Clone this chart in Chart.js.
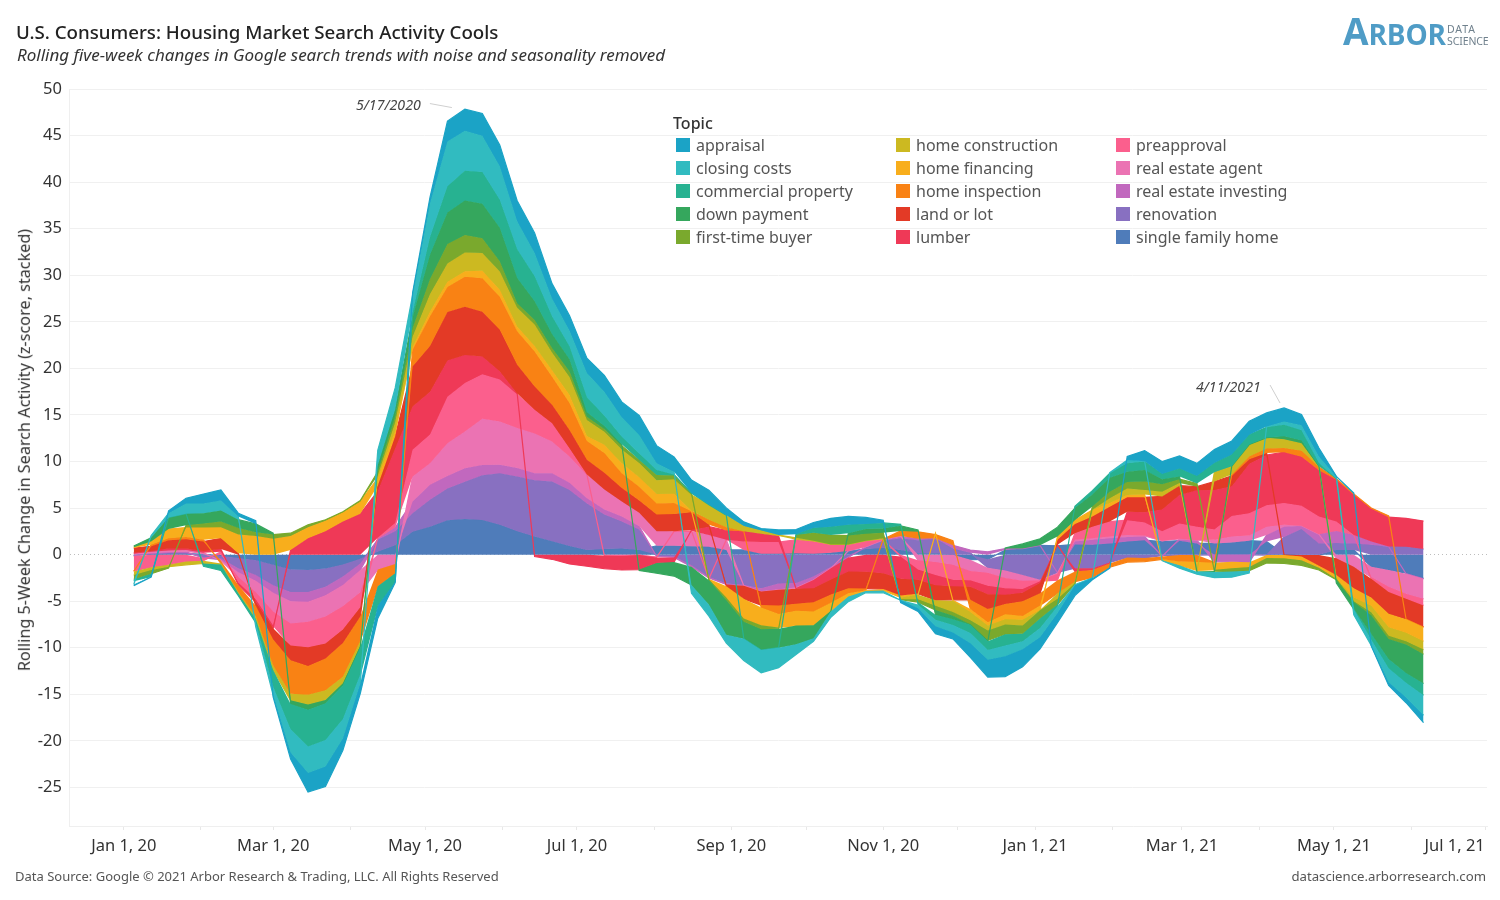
<!DOCTYPE html>
<html><head><meta charset="utf-8">
<script src="https://cdn.jsdelivr.net/npm/chart.js@4"></script>
<style>
html,body{margin:0;padding:0;background:#fff;width:1500px;height:900px;overflow:hidden}
#wrap{position:relative;width:1500px;height:900px;font-family:"Noto Sans",sans-serif}
canvas{position:absolute;left:0;top:0}
.t{position:absolute;white-space:nowrap;line-height:1}
#legend .sw{position:absolute;width:14px;height:14px}
</style></head><body>
<div id="wrap">
<canvas id="c" width="1500" height="900"></canvas>
<div class="t" style="left:16px;top:23px;font-size:18.7px;font-weight:500;color:#222">U.S. Consumers: Housing Market Search Activity Cools</div>
<div class="t" style="left:17px;top:46px;font-size:17px;font-style:italic;color:#333">Rolling five-week changes in Google search trends with noise and seasonality removed</div>
<div class="t" style="left:1343px;top:12px;font-family:'Open Sans';font-weight:700;color:#4f9cc6;font-size:37px">A<span style="font-size:28px;letter-spacing:-.2px">RBOR</span></div>
<div class="t" style="left:1447px;top:24px;font-size:10.5px;letter-spacing:.9px;color:#70818d">DATA</div>
<div class="t" style="left:1447px;top:36px;font-size:10.5px;letter-spacing:-.1px;color:#70818d">SCIENCE</div>
<div class="t" style="left:24px;top:449.5px;font-size:16.2px;color:#333;transform:translate(-50%,-50%) rotate(-90deg)">Rolling 5-Week Change in Search Activity (z-score, stacked)</div>
<div class="t" style="left:356px;top:98px;font-size:14.2px;font-style:italic;color:#444">5/17/2020</div>
<div class="t" style="left:1196px;top:380px;font-size:14.2px;font-style:italic;color:#444">4/11/2021</div>
<div class="t" style="left:15px;top:870px;font-size:13px;color:#555">Data Source: Google © 2021 Arbor Research &amp; Trading, LLC. All Rights Reserved</div>
<div class="t" style="right:14px;top:870px;font-size:13.2px;color:#555">datascience.arborresearch.com</div>
<div id="legend"></div>
</div>
<script>
// Week-ending dates as day offsets from Jan 1, 2020 (weekly from Jan 5, 2020 to Jun 6, 2021)
const weekCount = 75;
const firstDay = 4;

const appraisal = [-.15,-.05,.25,.55,1,1.15,.35,.35,-.2,-.7,
 -2.05,-2.15,-1.25,-1.05,-1.35,-.1,.2,.7,2.2,2.3,
 2.4,2.3,2.2,2.15,1.6,1.6,1.6,1.75,1.65,2.1,
 1.9,1.6,1.4,1.55,.8,.45,.2,.55,.5,.6,
 .9,.9,.7,.3,-.25,-.35,-.8,-.7,-1.5,-1.85,
 -2.2,-1.9,-1.25,-1,-1.1,-.2,-.1,.4,1.15,1.35,
 1.35,1.35,1.45,1.45,1.45,1.45,1.45,1.15,.9,.05,
 .1,-.05,-.35,-.55,-.8];
const closingCosts = [-.4,.25,.45,1.1,1.05,1.05,.35,-.45,-.9,-2.5,
 -2.85,-2.85,-2.1,-1,1.6,2.3,1.9,3.6,4.8,4.3,
 3.9,3.6,3,2.5,1.9,1.7,2.6,2.6,2.1,2,
 .7,.3,-.9,-1.25,-.9,-2.35,-2.45,-2.15,-1.1,-.35,
 -.65,-.55,-.2,-.25,-.05,-.4,-.7,-.8,-1.1,-1.05,
 -1.15,-.85,-1,-.75,-.15,-.05,.05,.35,.02,-.05,
 -.3,-.25,-.6,-.6,-.25,.1,.35,.55,.7,.2,
 -.6,-.65,-1.5,-1.6,-2.15];
const commercialProperty = [-.15,-.3,.05,0,-.3,-.65,-.25,-.4,-1.8,-2.7,
 -3.95,-3.95,-3.6,-2.9,-2.1,-.9,.5,1.9,2.8,3.2,
 3.4,3,3.1,2.7,1.9,1.4,1.6,1.1,.8,.7,
 .55,.1,.01,.02,.02,-.02,-.02,-.02,.1,.5,
 .9,.9,.55,.6,.15,-.25,-.55,-.6,-.9,-.95,
 -1.2,-.8,-1,-.2,.2,.4,.5,.9,.9,.55,
 .85,.8,1,1.25,1.05,1.1,1.25,1.1,.35,.01,
 -.02,-.6,-1,-1.05,-1.25];
const downPayment = [.13,.4,1.2,1.25,1.1,1.2,.9,.9,.15,-.4,
 -.55,-.35,-.25,-.2,.7,.8,1.2,2.6,3.4,3.7,
 3.7,3.6,2.7,2,1.5,1.3,.5,.3,.15,-.1,
 -1.1,-1.5,-1.95,-2.6,-3.7,-1.8,-2.2,-2,-2,-1.4,
 -.05,.25,.5,.45,.55,.2,-.5,-.4,-.02,-.1,
 .05,.5,.7,1,1.3,1.3,1.5,1.1,1.25,.55,
 .3,-.05,-.1,0,.02,.02,.3,.3,.05,-.35,
 -.75,-2,-2.15,-3.05,-3.15];
const firstTimeBuyer = [-.45,-.4,-.15,.25,.45,.6,.7,.4,.45,.3,
 .25,.1,.05,.1,.4,.6,.9,1.6,2.1,1.9,
 1.6,1.1,.5,.5,.5,.6,.35,.3,.4,.3,
 .55,.4,.2,-.1,-.3,-.35,-.45,-.15,.3,.85,
 1,.95,.75,.6,-.05,-.3,-.45,-.4,-.45,-1.05,
 -1.05,-.9,-.9,-.6,-.05,.35,.7,.7,.9,.8,
 .4,.35,-.15,-.35,-.4,-.55,-.55,-.55,-.25,-.1,
 -.1,-.3,-.35,-.35,-.5];
const homeConstruction = [-.4,-.3,-.2,-.35,-.3,-.1,-.1,-.3,-.5,-.7,
 -1.05,-1.05,-.7,-.5,.3,.9,1.1,1.9,1.95,2,
 1.9,1.95,2,2.3,1.9,1.9,1.7,1.4,1.5,1.55,
 1.5,1.55,1.7,1.6,1.25,.55,.35,.1,.2,.1,
 0,0,0,.1,-.2,-.5,-.6,-1.2,-.9,-.55,
 -.55,-.6,-.02,-.6,-.2,.02,.5,.7,.5,.5,
 .3,-.1,1,.9,1.25,1.15,.95,.8,.05,-.05,
 -.4,-.7,-.9,-.9,-.9];
const homeFinancing = [.1,.35,1,1,1.3,1.2,2,2,1.7,1.5,
 1.2,1.15,1,1.3,.8,.6,.3,.5,.55,.6,
 .8,.75,.5,.6,.7,.9,.55,.9,1.05,1,
 1,1,.05,-.05,-1.2,-2.1,-1.9,-1.45,-1.6,-1.45,
 -.85,-.35,-.05,-.15,-.2,-.1,.15,-.1,-.3,-.35,
 -.55,-.4,-.5,.35,.4,.7,.4,.25,.3,-.1,
 -.4,-.9,-.75,-.7,-.5,-.3,-.35,-.4,-.2,-.35,
 -1,-.9,-1.45,-1.45,-1.5];
const homeInspection = [-.05,.15,.2,.25,.2,-.3,-.8,-1.1,-2.8,-3.6,
 -3.1,-3.4,-3.6,-2.6,-1.8,-1,1.8,3.2,2.7,3.2,
 3.6,3.55,3.6,3.75,3,2.9,2,2.1,1.6,1.5,
 1.2,1.2,.1,.55,.35,.02,-.25,-.9,-.75,-1,
 -.9,-.55,-.2,.05,.55,.75,.4,.5,-1,-1.4,
 -1.1,-1.6,-1.3,-1.4,-1.1,-.8,-.4,-.5,-.4,-.3,
 -.7,-.75,-.1,.15,.3,.5,.45,.65,.35,.1,
 .1,.05,.15,-.05,-.05];
const landOrLot = [.5,.5,.9,1,1,1.15,.15,-.4,-1.2,-1.6,
 -2,-1.6,-1.45,-1,.6,1.3,4.3,4.9,5.2,5.2,
 4.8,4.45,3.1,2.5,2,1.95,1.6,1.8,1.45,1.3,
 1.8,1.85,1.9,.2,-.2,-1.4,-1.45,-1.7,-1.6,-1.5,
 -1.6,-1.8,-1.8,-1.7,-1.8,-1.5,-1.6,-1.45,-1.4,-1.6,
 -1,-.9,-1.1,.55,1,1.1,1.6,1.55,1.6,1.4,
 1,.4,.9,1.1,.5,.2,-.05,-.15,-1.15,-1.8,
 -2.3,-2,-2.35,-2.15,-2.3];
const lumber = [.1,.1,.2,.15,.2,.3,-.25,-.3,-.3,.5,
 1.75,2.5,3.55,4.4,5,8,4.65,4.6,3.9,3,
 1.9,.9,.1,-.2,-.5,-1,-1.25,-1.4,-1.5,-1.55,
 -.6,-.5,.1,.9,1,1.1,.9,.65,-.1,-.9,
 -1.2,-1.5,-1.85,-2,-2.4,-1.1,-1.1,-.7,-.7,-.9,
 -.7,-.4,-.2,.1,-.35,-.2,-.1,.9,1.1,2.35,
 3.05,3.9,4.25,3.2,5.3,5.4,5.45,5.25,4.95,4.5,
 4.3,3.55,3.15,3.05,3];
const preapproval = [-1.6,-1.35,-1.1,-.75,-.3,.3,-.6,-.8,-1.5,-2.35,
 -2.75,-2.9,-2.5,-1.6,.1,.5,2.85,3.1,5,5.2,
 4.8,4.5,3.6,2.55,1.95,.9,.05,-.1,-.15,-.05,
 -.1,.05,.1,-.1,0,.9,1.25,1.25,1.45,1.3,
 .9,.7,.65,0,-.2,-1,-1.4,-1.6,-1,-1.4,
 -1.1,-.9,-.1,-.7,.7,1.25,1.6,1.6,1.4,1,
 1.65,1.45,1.1,2.2,2.4,2.3,2.35,2.15,1.9,1,
 .02,-.2,-.55,-.55,-.7];
const realEstateAgent = [.1,.15,.2,.2,.15,-.1,-.5,-1.2,-2,-2.4,
 -2.15,-2.3,-2.3,-2.4,-1.6,-1,2.7,2.3,3.5,3.95,
 4.95,4.65,4.3,4.25,3.4,2.8,2.5,2.15,1.6,1.45,
 1.55,1.5,1.55,1.25,1.1,-.05,-.02,-.02,-.02,-.02,
 -.02,0,0,0,.05,-.6,-.8,-1.1,-1.2,-.55,
 -.8,-.6,-.05,-.1,.2,.15,.2,.2,.1,.1,
 0,0,.4,.65,.55,.9,.2,0,0,-.4,
 -1.3,-1.1,-1.8,-2.15,-2.15];
const realEstateInvesting = [-.05,.05,.05,.1,-.05,-.15,-.45,-.6,-.8,-1,
 -1.05,-.9,-.9,-.7,.1,.4,1.25,1.6,1.35,1.45,
 1.1,.9,.9,.75,.9,.8,.55,.55,.55,.35,
 -.05,-.1,-.15,-.1,-.1,-.05,-.35,-.65,-.5,-.35,
 -.15,-.1,.05,.1,.2,.15,0,.35,.3,.3,
 .15,0,0,-.05,.3,.55,.55,.5,.4,-.1,
 .2,.35,-.75,-.75,-.8,.7,1.1,.35,1,1.3,
 .9,.35,.02,-.05,-.05];
const renovation = [-.05,.05,.1,.1,-.3,-.25,-1.1,-1.6,-2.2,-2.4,
 -2.35,-1.95,-1.3,-.5,1.3,1.5,2,2.9,3.4,4,
 4.8,5.55,5.9,6.05,6.4,6,5,3.7,2.9,2.2,
 -.15,-.2,-1.15,-2.4,-3.1,-3.25,-3.6,-3.1,-3.05,-2.35,
 -1.3,-.2,.2,.8,1.25,1.4,1.6,.65,.2,-.9,
 -1.7,-2.2,-2.7,-1.9,-1.45,-1.45,-.85,-.3,-.35,-.1,
 -.05,-.05,-.02,-.02,-.02,-.05,1.85,2.75,1.2,.75,
 .7,1.05,.85,.85,.6];
const singleFamilyHome = [-.05,.05,.1,.1,.05,-.15,-.35,-.6,-1.1,-1.6,
 -1.65,-1.5,-1.05,-.45,.3,1,2.45,3,3.7,3.83,
 3.73,3.2,2.5,1.95,1.45,.93,.5,.6,.65,.5,
 .95,.95,.9,.85,.5,.5,.1,.1,.15,.1,
 .2,.4,.6,.7,.5,.15,.15,0,-.55,-.5,
 .5,.65,1,.95,1.1,1.05,1.2,1.4,1.55,1.4,
 1.5,1.2,1.2,1.3,1.5,1.4,.05,-.05,-.05,.5,
 .5,-1.3,-1.65,-2,-2.55];

const topicNames = ["appraisal","closing costs","commercial property","down payment","first-time buyer",
 "home construction","home financing","home inspection","land or lot","lumber",
 "preapproval","real estate agent","real estate investing","renovation","single family home"];
const topicValues = [appraisal,closingCosts,commercialProperty,downPayment,firstTimeBuyer,
 homeConstruction,homeFinancing,homeInspection,landOrLot,lumber,
 preapproval,realEstateAgent,realEstateInvesting,renovation,singleFamilyHome];
const topicColors = ["#1ba3c6","#31bbc0","#27b291","#35a75d","#7aa92d",
 "#ccb921","#f8ae1c","#f98214","#e33a26","#ef3957",
 "#fb5f8d","#eb73b3","#c168be","#8870c1","#4f7cba"];

const yTickValues = [-25,-20,-15,-10,-5,0,5,10,15,20,25,30,35,40,45,50];
const xTickDays = [0,31,60,91,121,152,182,213,244,274,305,335,366,397,425,456,486,517,534.5,547];
const xTickLabels = {0:"Jan 1, 20",60:"Mar 1, 20",121:"May 1, 20",182:"Jul 1, 20",244:"Sep 1, 20",305:"Nov 1, 20",366:"Jan 1, 21",425:"Mar 1, 21",486:"May 1, 21",534.5:"Jul 1, 21"};

// Diverging stack, single family home nearest to zero, appraisal outermost
const days = Array.from({length:weekCount},(_,i)=>firstDay+7*i);
const posSum = new Array(weekCount).fill(0), negSum = new Array(weekCount).fill(0);
const layers = [];
for(let k=topicValues.length-1;k>=0;k--){
  const base=[],top=[];
  topicValues[k].forEach((v,i)=>{
    const acc = v>=0?posSum:negSum;
    base.push({x:days[i],y:acc[i]});
    acc[i]+=v;
    top.push({x:days[i],y:acc[i]});
  });
  layers[k]={base,top};
}
const datasets=[];
topicValues.forEach((_,k)=>{
  datasets.push({label:topicNames[k],data:layers[k].top,fill:'+1',backgroundColor:topicColors[k],borderColor:topicColors[k],borderWidth:1.2,pointRadius:0,tension:0});
  datasets.push({label:topicNames[k]+" (base)",data:layers[k].base,fill:false,borderWidth:0,pointRadius:0,tension:0});
});

const leaderLines={id:'leaders',afterDatasetsDraw(ch){
  const {ctx,scales:{x,y}}=ch;
  ctx.save();ctx.strokeStyle='#cfcfcf';ctx.lineWidth=1;
  [[137,47.9,-35,-5,-13,-1],[466,15.9,-14,-21.5,-4,-3.5]].forEach(([d,v,sx,sy,ex,ey])=>{
    const px=x.getPixelForValue(d),py=y.getPixelForValue(v);
    ctx.beginPath();ctx.moveTo(px+sx,py+sy);ctx.lineTo(px+ex,py+ey);ctx.stroke();
  });
  ctx.restore();
}};

new Chart(document.getElementById('c'),{
  type:'line',
  data:{datasets},
  plugins:[leaderLines],
  options:{
    responsive:false,animation:false,
    layout:{padding:{left:0,right:13,top:89,bottom:30}},
    plugins:{legend:{display:false},title:{display:false},tooltip:{enabled:false}},
    elements:{line:{borderJoinStyle:'miter'}},
    scales:{
      x:{type:'linear',min:-22,max:547.5,
        afterBuildTicks:s=>{s.ticks=xTickDays.map(v=>({value:v}));},
        afterFit:s=>{s.height=44;},
        grid:{drawOnChartArea:false,drawTicks:true,tickLength:4,color:'#e8e8e8',
          tickColor:c=>c.tick&&c.tick.value===534.5?'rgba(0,0,0,0)':'#e8e8e8'},
        border:{display:true,color:'#efefef'},
        ticks:{autoSkip:false,maxRotation:0,minRotation:0,padding:6,color:'#333',font:{family:'"Noto Sans"',size:16.5},
          callback:v=>xTickLabels[v]||''}
      },
      y:{type:'linear',min:-29.14,max:50,
        afterBuildTicks:s=>{s.ticks=yTickValues.map(v=>({value:v}));},
        afterFit:s=>{s.width=69;},
        grid:{drawTicks:false,color:c=>c.tick&&c.tick.value===0?'#bdbdbd':'#f0f0f0',lineWidth:1},
        border:{display:true,color:'#efefef',dash:c=>c.tick&&c.tick.value===0?[1,3]:[]},
        ticks:{padding:7,color:'#333',font:{family:'"Noto Sans"',size:16.5},callback:v=>String(v)}
      }
    }
  }
});

// Legend
const lg=document.getElementById('legend');
const colX=[676,896,1116], rowY=[145,168,191,214,237];
const tt=document.createElement('div');tt.className='t';tt.textContent='Topic';
tt.style.cssText='left:673px;top:115px;font-size:16px;color:#333;font-weight:500';lg.appendChild(tt);
topicNames.forEach((n,k)=>{
  const c=Math.floor(k/5),r=k%5;
  const s=document.createElement('div');s.className='sw';s.style.cssText=`left:${colX[c]}px;top:${rowY[r]-7}px;background:${topicColors[k]}`;lg.appendChild(s);
  const t=document.createElement('div');t.className='t';t.textContent=n;
  t.style.cssText=`left:${colX[c]+20}px;top:${rowY[r]-8}px;font-size:16px;color:#555`;lg.appendChild(t);
});
</script>
</body></html>
